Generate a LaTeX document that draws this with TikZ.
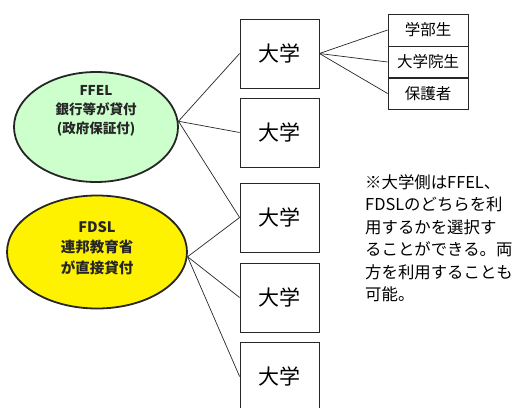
\documentclass[tikz,border=0pt]{standalone}
\usepackage{fontspec}
\setmainfont{Noto Sans CJK JP}
\usetikzlibrary{shapes.geometric}
\begin{document}
\begin{tikzpicture}[x=1pt,y=-1pt,
  uni/.style={draw=black!85,line width=0.8pt,minimum width=79pt,minimum height=69pt,inner sep=0pt,font=\fontsize{21}{24}\selectfont},
  sub/.style={draw=black!85,line width=0.8pt,minimum width=80pt,minimum height=32pt,inner sep=0pt,font=\fontsize{15.5}{18}\selectfont},
  oval/.style={ellipse,draw=black!85,line width=1.8pt,inner sep=0pt},
  ovtext/.style={align=center,text=black!85,font=\bfseries\fontsize{13.5}{19}\selectfont},
  conn/.style={draw=black!85,line width=0.7pt}]
\useasboundingbox (0,0) rectangle (513,407);
\clip (0,0) rectangle (513,407);
\node[oval,fill={rgb,255:red,204;green,255;blue,204},minimum width=164pt,minimum height=110pt] (g) at (96,127) {};
\node[ovtext] (gt) at (96,111) {FFEL\\銀行等が貸付\\(政府保証付)};
\node[oval,fill=yellow,minimum width=180pt,minimum height=113pt] (yl) at (97,252) {};
\node[ovtext,font=\bfseries\fontsize{14.5}{20.5}\selectfont] (yt) at (97,248) {FDSL\\連邦教育省\\が直接貸付};
\node[uni] (u1) at (279.5,53.5) {大学};
\node[uni] (u2) at (279.5,132.5) {大学};
\node[uni] (u3) at (279.5,217.5) {大学};
\node[uni] (u4) at (279.5,297.5) {大学};
\node[uni] (u5) at (279.5,376.5) {大学};
\node[sub] (s1) at (428,30) {学部生};
\node[sub] (s2) at (428,62) {大学院生};
\node[sub] (s3) at (428,93.5) {保護者};
\node[anchor=north west,inner sep=0pt,align=left,font=\fontsize{16.4}{22.5}\selectfont] (note) at (365,174) {※大学側はFFEL、\\FDSLのどちらを利\\用するかを選択す\\ることができる。両\\方を利用することも\\可能。};
\draw[conn] (g.4) -- (u1.west);
\draw[conn] (g.4) -- (u2.west);
\draw[conn] (g.4) -- (u3.west);
\draw[conn] (yl.-3) -- (u3.west);
\draw[conn] (yl.-3) -- (u4.west);
\draw[conn] (yl.-3) -- (u5.west);
\draw[conn] (u1.east) -- (s1.west);
\draw[conn] (u1.east) -- (s2.west);
\draw[conn] (u1.east) -- (s3.west);
\end{tikzpicture}
\end{document}
